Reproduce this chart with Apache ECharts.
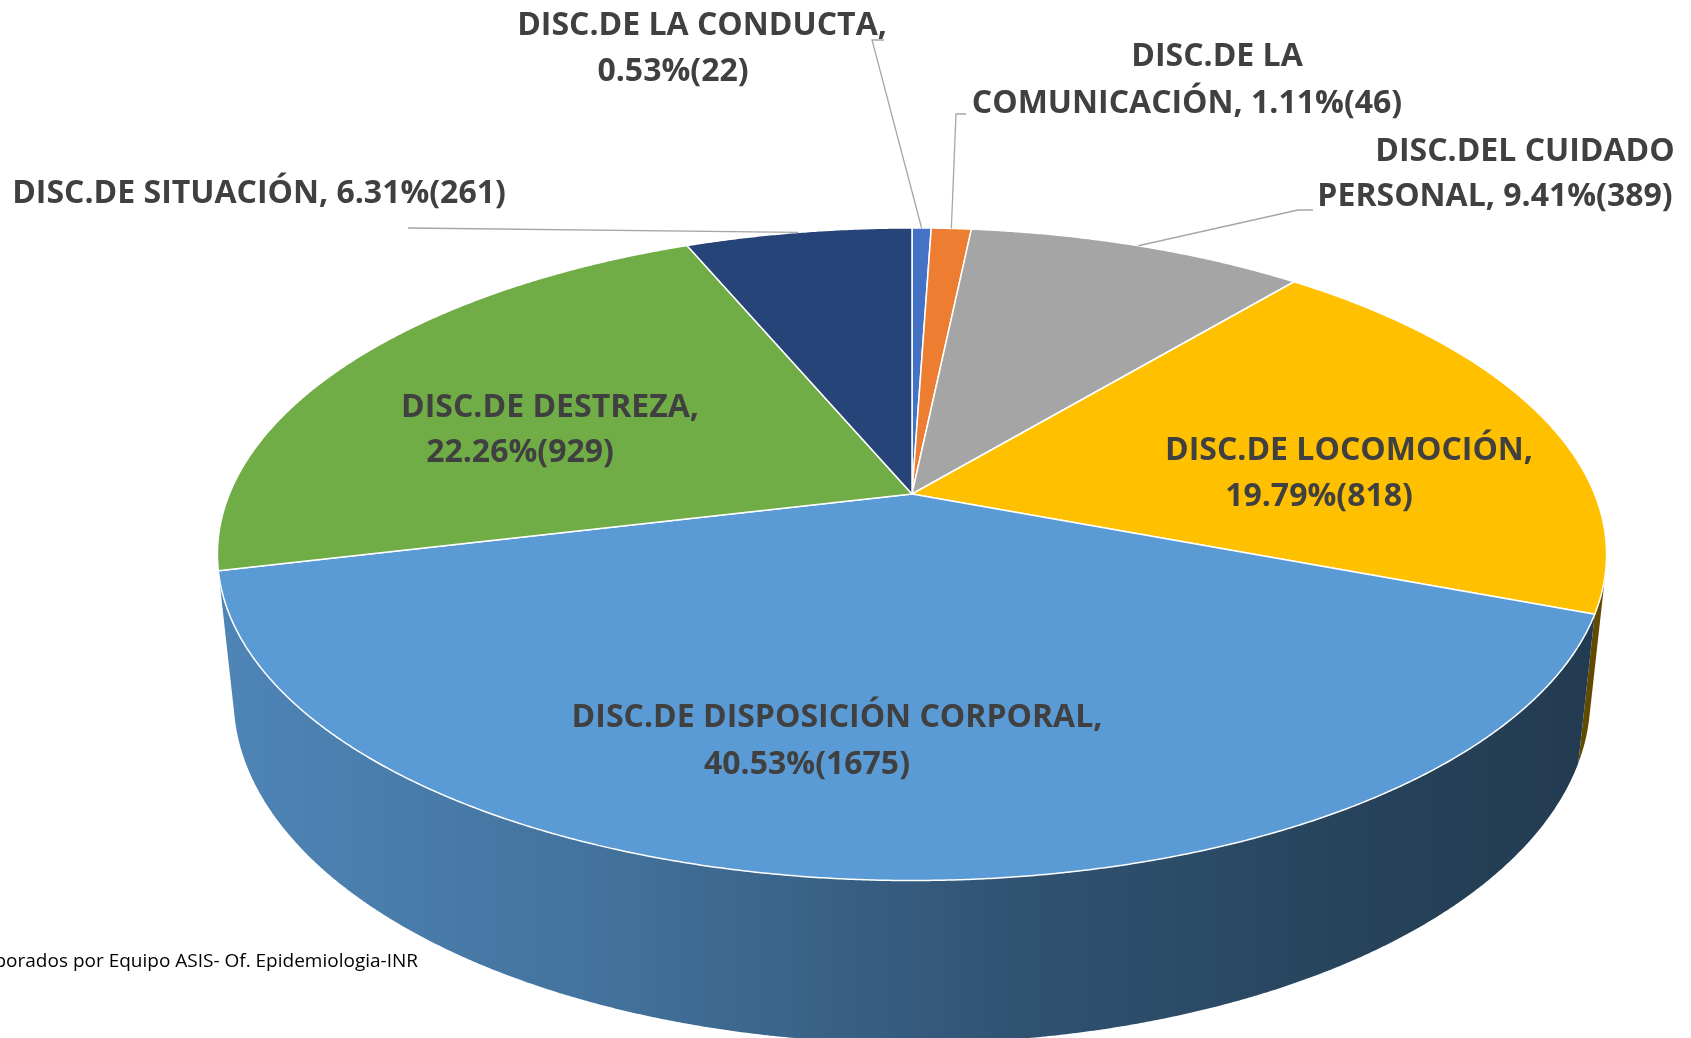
<!DOCTYPE html>
<html><head><meta charset="utf-8">
<script src="https://cdn.jsdelivr.net/npm/echarts@6/dist/echarts.min.js"></script>
<style>html,body{margin:0;padding:0;background:#fff;overflow:hidden}#c{width:1691px;height:1038px}</style>
</head><body><div id="c"></div>
<script>
// ---- data ----
const categories = ['DISC.DE LA CONDUCTA','DISC.DE LA COMUNICACIÓN','DISC.DEL CUIDADO PERSONAL','DISC.DE LOCOMOCIÓN','DISC.DE DISPOSICIÓN CORPORAL','DISC.DE DESTREZA','DISC.DE SITUACIÓN'];
const counts = [22, 46, 389, 818, 1675, 929, 261];
const percentLabels = ['0.53%', '1.11%', '9.41%', '19.79%', '40.53%', '22.26%', '6.31%'];
const labelLines = [
  ['DISC.DE LA CONDUCTA,', '0.53%(22)'],
  ['DISC.DE LA', 'COMUNICACIÓN, 1.11%(46)'],
  ['DISC.DEL CUIDADO', 'PERSONAL, 9.41%(389)'],
  ['DISC.DE LOCOMOCIÓN,', '19.79%(818)'],
  ['DISC.DE DISPOSICIÓN CORPORAL,', '40.53%(1675)'],
  ['DISC.DE DESTREZA,', '22.26%(929)'],
  ['DISC.DE SITUACIÓN, 6.31%(261)']
];
const sourceText = 'Datos elaborados por Equipo ASIS- Of. Epidemiologia-INR';

// ---- styles / layout ----
const colors = ['#4472C4', '#ED7D31', '#A5A5A5', '#FFC000', '#5B9BD5', '#70AD47', '#264478'];
const labelPos = [
  [[702, 26], [673, 72]],
  [[1217, 57], [1187, 104]],
  [[1525, 152], [1495, 197]],
  [[1349, 451], [1319, 497]],
  [[837, 718], [807, 765]],
  [[550, 408], [520, 453]],
  [[259, 194]]
];
const leaderStart = [
  [[884, 40], [872, 40]],
  [[966, 114], [956, 114]],
  [[1313, 210], [1298, 210]],
  null, null, null,
  [[408, 228]]
];
// projection parameters (perspective 3D pie)
const CX = 912, CY = 494, F = 3280, DIST = 4.805;
const ALPHA = Math.asin(0.4617), S = Math.sin(ALPHA), C = Math.cos(ALPHA), T = 0.24;
const shadeStops = [[0, 0.86], [0.27, 0.74], [0.585, 0.53], [0.874, 0.41], [1, 0.38]];
const SHADE_X0 = 218, SHADE_X1 = 1605;
const FONT = '"Open Sans", "Noto Sans", sans-serif';
const LABEL_SIZE = 32;

const total = counts.reduce((a, b) => a + b, 0);
const cum = []; counts.reduce((a, b, i) => { cum[i] = a; return a + b; }, 0);

function proj(phi, h, r) {
  if (r === undefined) r = 1;
  const u = r * Math.sin(phi), v = r * Math.cos(phi);
  const z = DIST + v * C - h * S;
  return [CX + F * u / z, CY - F * (h * C + v * S) / z];
}
function arc(a, b, h) {
  const pts = []; const n = Math.max(2, Math.ceil(Math.abs(b - a) / (Math.PI / 720)));
  for (let k = 0; k <= n; k++) pts.push(proj(a + (b - a) * k / n, h));
  return pts;
}
function hexRgb(h) { return [parseInt(h.substr(1, 2), 16), parseInt(h.substr(3, 2), 16), parseInt(h.substr(5, 2), 16)]; }
function scaleColor(h, f) { const c = hexRgb(h).map(x => Math.round(x * f)); return 'rgb(' + c.join(',') + ')'; }
function angles(i, val) {
  const a = cum[i] / total * Math.PI * 2;
  return [a, a + val / total * Math.PI * 2];
}
const visLo = Math.acos(-1 / (DIST * C)), visHi = 2 * Math.PI - visLo;

const data = counts.map((v, i) => ({ value: [v, i], name: categories[i] }));

const chart = echarts.init(document.getElementById('c'), null, { renderer: 'canvas' });
chart.setOption({
  animation: false,
  backgroundColor: '#ffffff',
  series: [
    {
      type: 'custom', coordinateSystem: 'none', z: 1, silent: true, data: data,
      renderItem: function (params, api) {
        const i = params.dataIndex;
        const [a, b] = angles(i, api.value(0));
        const lo = Math.max(a, visLo), hi = Math.min(b, visHi);
        if (hi <= lo) return { type: 'group', children: [] };
        const top = arc(lo, hi, 0), bot = arc(hi, lo, -T);
        return {
          type: 'polygon',
          shape: { points: top.concat(bot) },
          style: {
            fill: {
              type: 'linear', global: true, x: SHADE_X0, y: 0, x2: SHADE_X1, y2: 0,
              colorStops: shadeStops.map(s => ({ offset: s[0], color: scaleColor(colors[i], s[1]) }))
            },
            stroke: null
          }
        };
      }
    },
    {
      type: 'custom', coordinateSystem: 'none', z: 2, silent: true, data: data,
      renderItem: function (params, api) {
        const i = params.dataIndex;
        const [a, b] = angles(i, api.value(0));
        const pts = [proj(0, 0, 0)].concat(arc(a, b, 0));
        return {
          type: 'polygon',
          shape: { points: pts },
          style: { fill: colors[i], stroke: '#ffffff', lineWidth: 1.5, lineJoin: 'round' }
        };
      }
    },
    {
      type: 'custom', coordinateSystem: 'none', z: 3, silent: true, data: data,
      renderItem: function (params, api) {
        const i = params.dataIndex;
        const [a, b] = angles(i, api.value(0));
        const children = [];
        if (leaderStart[i]) {
          const end = proj((a + b) / 2, 0);
          children.push({
            type: 'polyline',
            shape: { points: leaderStart[i].concat([end]) },
            style: { stroke: '#a6a6a6', lineWidth: 1.3, fill: null }
          });
        }
        labelLines[i].forEach((t, k) => {
          children.push({
            type: 'text',
            x: labelPos[i][k][0], y: labelPos[i][k][1],
            style: {
              text: t, fill: '#404040', font: 'bold ' + LABEL_SIZE + 'px ' + FONT,
              textAlign: 'center', textVerticalAlign: 'middle'
            }
          });
        });
        return { type: 'group', children: children };
      }
    }
  ],
  graphic: [{
    type: 'text', x: 418, y: 962, silent: true,
    style: { text: sourceText, fill: '#000000', font: '19px ' + FONT, textAlign: 'right', textVerticalAlign: 'middle' }
  }]
});
</script>
</body></html>
